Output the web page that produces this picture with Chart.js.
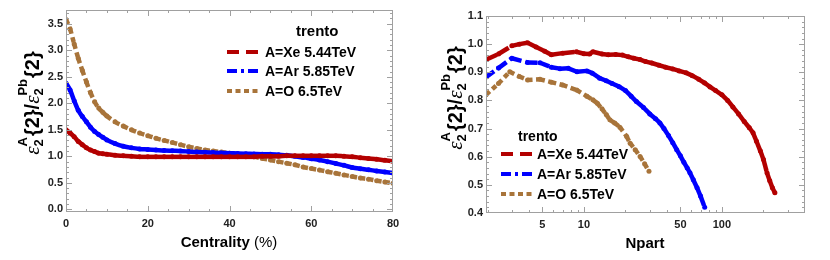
<!DOCTYPE html>
<html>
<head>
<meta charset="utf-8">
<script src="https://cdn.jsdelivr.net/npm/chart.js@4.4.1/dist/chart.umd.min.js"></script>
<style>
    body { margin: 0; background: #fff; width: 830px; height: 260px; overflow: hidden; }
    canvas { position: absolute; top: 0; }
    #leftChart { left: 0; }
    #rightChart { left: 415px; }
</style>
</head>
<body>
<canvas id="leftChart" width="415" height="260"></canvas>
<canvas id="rightChart" width="415" height="260"></canvas>
<script>
// ===== Left panel: ratio vs centrality =====
const centrality = [0, 1, 2, 3, 4, 5, 6, 7, 8, 9, 10, 12, 14, 16, 18, 20, 22, 24, 26, 28, 30, 32, 34, 36, 38, 40,
    42, 44, 46, 48, 50, 52, 54, 56, 58, 60, 62, 64, 66, 68, 70, 72, 74, 76, 78, 80];
const xeCent = [1.50, 1.44, 1.37, 1.28, 1.22, 1.16, 1.12, 1.09, 1.06, 1.05, 1.04, 1.02, 1.01, 1.00, 0.99, 0.99, 0.99, 0.99, 0.99, 0.99, 0.99, 0.99, 0.99, 0.99, 0.99, 0.99,
    0.99, 0.99, 0.99, 1.00, 1.00, 1.00, 1.01, 1.01, 1.01, 1.01, 1.01, 1.01, 1.01, 1.00, 0.99, 0.975, 0.96, 0.945, 0.925, 0.905];
const arCent = [2.38, 2.25, 2.05, 1.87, 1.75, 1.65, 1.55, 1.47, 1.41, 1.36, 1.31, 1.24, 1.19, 1.16, 1.14, 1.13, 1.12, 1.11, 1.105, 1.10, 1.09, 1.08, 1.075, 1.07, 1.065, 1.06,
    1.055, 1.05, 1.045, 1.04, 1.04, 1.03, 1.02, 1.00, 0.98, 0.955, 0.93, 0.90, 0.865, 0.83, 0.79, 0.765, 0.745, 0.725, 0.705, 0.685];
const oCent = [3.58, 3.40, 3.12, 2.85, 2.62, 2.40, 2.20, 2.03, 1.91, 1.83, 1.76, 1.65, 1.57, 1.50, 1.44, 1.39, 1.34, 1.30, 1.26, 1.22, 1.18, 1.15, 1.12, 1.10, 1.08, 1.06,
    1.04, 1.01, 0.99, 0.96, 0.93, 0.90, 0.87, 0.84, 0.80, 0.77, 0.74, 0.71, 0.68, 0.65, 0.62, 0.59, 0.57, 0.54, 0.515, 0.49];

// ===== Right panel: ratio vs Npart =====
const xeNpart = [1.95, 2.4, 3, 3.4, 3.9, 4.5, 5.2, 5.8, 7, 8.8, 10, 11, 11.6, 13.5, 15, 17, 19, 21, 23, 25.5, 28, 31, 35, 39, 44, 49,
    55, 61, 68, 75, 82, 90, 100, 110, 120, 132, 145, 158, 168, 178, 190, 200, 212, 222, 232, 242];
const xeRatio = [0.945, 0.965, 0.994, 1.0, 1.005, 0.99, 0.975, 0.962, 0.968, 0.973, 0.966, 0.965, 0.973, 0.965, 0.962, 0.963, 0.961, 0.955, 0.95, 0.945, 0.938, 0.933, 0.925, 0.918, 0.912, 0.905,
    0.898, 0.888, 0.875, 0.862, 0.848, 0.835, 0.82, 0.80, 0.777, 0.752, 0.725, 0.703, 0.685, 0.655, 0.62, 0.59, 0.543, 0.515, 0.49, 0.472];
const arNpart = [1.95, 2.4, 3, 3.9, 4.8, 5.8, 6.7, 7.7, 8.9, 10.5, 11.5, 13, 14.5, 16, 18, 20, 22, 24, 27, 30, 33, 35.5, 38, 41, 44, 47,
    50, 53, 56, 58.6, 62, 66, 70, 75];
const arRatio = [0.883, 0.915, 0.95, 0.935, 0.934, 0.918, 0.913, 0.914, 0.902, 0.905, 0.897, 0.879, 0.87, 0.86, 0.849, 0.835, 0.815, 0.796, 0.775, 0.752, 0.735, 0.72, 0.70, 0.675, 0.65, 0.625,
    0.603, 0.58, 0.56, 0.543, 0.518, 0.49, 0.46, 0.42];
const oNpart = [1.95, 2.4, 2.9, 3.4, 3.9, 4.8, 5.8, 7, 8.85, 10.5, 11.6, 12.5, 13.5, 14.5, 15.4, 16.7, 18.2, 20.4, 21.6, 23.5, 25.5, 27.5, 29.6];
const oRatio = [0.82, 0.86, 0.902, 0.885, 0.873, 0.875, 0.865, 0.855, 0.837, 0.815, 0.802, 0.79, 0.77, 0.75, 0.731, 0.72, 0.705, 0.672, 0.648, 0.625, 0.601, 0.575, 0.548];

// ===== Ticks =====
const leftXTicks = [0, 20, 40, 60, 80];
const leftYTicks = [0, 0.5, 1, 1.5, 2, 2.5, 3, 3.5];
const rightXTicks = [5, 10, 50, 100];
const rightYTicks = [0.4, 0.5, 0.6, 0.7, 0.8, 0.9, 1.0, 1.1];

const seriesNames = ['A=Xe 5.44TeV', 'A=Ar 5.85TeV', 'A=O 6.5TeV'];
const seriesColors = ['#b30000', '#0000ff', '#a8743a'];
const seriesDash = [[12, 7], [10, 4, 3, 4], [5, 3.5]];

const FONT = "'Liberation Sans', Arial, sans-serif";

// minor tick positions (axis scaffolding only)
function range(a, b, step) {
    const out = [];
    for (let v = a; v <= b + 1e-9; v += step) out.push(Math.round(v * 1000) / 1000);
    return out;
}
const leftXMinor = range(0, 80, 5);
const leftYMinor = range(0, 3.7, 0.1);
const rightYMinor = range(0.4, 1.1, 0.02);
const rightXMinor = [2, 3, 4, 6, 7, 8, 9, 20, 30, 40, 60, 70, 80, 90, 200, 300, 400];

function pairs(xs, ys) {
    return xs.map((x, i) => ({ x: x, y: ys[i] }));
}

// ===== y-axis title: eps_2^A{2}/eps_2^Pb{2} =====
function drawRatioTitle(ctx, bx, cy) {
    const big = 'bold 20px ' + FONT;
    const eps = "italic 21px 'Liberation Serif', serif";
    const small = 'bold 13px ' + FONT;
    const parts = [
        { t: 'ε', f: eps }, { sub: '2', sup: 'A' }, { t: '{2}/', f: big },
        { t: 'ε', f: eps }, { sub: '2', sup: 'Pb' }, { t: '{2}', f: big }
    ];
    let total = 0;
    parts.forEach(p => {
        if (p.t) { ctx.font = p.f; p.w = ctx.measureText(p.t).width; }
        else { ctx.font = small; p.w = Math.max(ctx.measureText(p.sub).width, ctx.measureText(p.sup).width) + 1; }
        total += p.w;
    });
    ctx.save();
    ctx.translate(bx, cy);
    ctx.rotate(-Math.PI / 2);
    ctx.fillStyle = '#000';
    ctx.textBaseline = 'alphabetic';
    ctx.textAlign = 'left';
    let x = -total / 2;
    parts.forEach(p => {
        if (p.t) { ctx.font = p.f; ctx.fillText(p.t, x, 0); }
        else { ctx.font = small; ctx.fillText(p.sub, x, 4); ctx.fillText(p.sup, x, -12); }
        x += p.w;
    });
    ctx.restore();
}

// ===== Frame, inward ticks, legend and titles =====
function framePlugin(cfg) {
    return {
        id: 'frame_' + cfg.key,
        afterDraw(chart) {
            const ctx = chart.ctx;
            const a = chart.chartArea;
            const xs = chart.scales.x;
            const ys = chart.scales.y;
            ctx.save();
            ctx.strokeStyle = '#a0a0a0';
            ctx.lineWidth = 1;
            ctx.strokeRect(a.left + 0.5, a.top + 0.5, a.right - a.left - 1, a.bottom - a.top - 1);

            function xTick(v, len) {
                const px = Math.round(xs.getPixelForValue(v)) + 0.5;
                if (px < a.left || px > a.right) return;
                ctx.beginPath();
                ctx.moveTo(px, a.bottom); ctx.lineTo(px, a.bottom - len);
                ctx.moveTo(px, a.top); ctx.lineTo(px, a.top + len);
                ctx.stroke();
            }
            function yTick(v, len) {
                const py = Math.round(ys.getPixelForValue(v)) + 0.5;
                if (py < a.top || py > a.bottom) return;
                ctx.beginPath();
                ctx.moveTo(a.left, py); ctx.lineTo(a.left + len, py);
                ctx.moveTo(a.right, py); ctx.lineTo(a.right - len, py);
                ctx.stroke();
            }
            cfg.xMinor.forEach(v => xTick(v, 3));
            cfg.yMinor.forEach(v => yTick(v, 3));
            cfg.xMajor.forEach(v => xTick(v, 6));
            cfg.yMajor.forEach(v => yTick(v, 6));

            // legend
            const lg = cfg.legend;
            ctx.fillStyle = '#000';
            ctx.textBaseline = 'middle';
            ctx.font = 'bold ' + lg.titleSize + 'px ' + FONT;
            ctx.textAlign = 'left';
            ctx.fillText('trento', lg.titleX, lg.titleY);
            seriesNames.forEach((name, i) => {
                const y = lg.rows[i];
                ctx.beginPath();
                ctx.setLineDash(seriesDash[i]);
                ctx.strokeStyle = seriesColors[i];
                ctx.lineWidth = 4;
                ctx.moveTo(lg.x0, y); ctx.lineTo(lg.x1, y);
                ctx.stroke();
                ctx.setLineDash([]);
                ctx.font = 'bold 14px ' + FONT;
                ctx.fillStyle = '#000';
                ctx.fillText(name, lg.tx, y + 1);
            });

            // x title
            ctx.textBaseline = 'alphabetic';
            ctx.fillStyle = '#000';
            if (cfg.key === 'left') {
                ctx.font = 'bold 15px ' + FONT;
                const w1 = ctx.measureText('Centrality ').width;
                ctx.font = '15px ' + FONT;
                const w2 = ctx.measureText('(%)').width;
                const sx = cfg.xTitleX - (w1 + w2) / 2;
                ctx.font = 'bold 15px ' + FONT;
                ctx.fillText('Centrality ', sx, cfg.xTitleY);
                ctx.font = '15px ' + FONT;
                ctx.fillText('(%)', sx + w1, cfg.xTitleY);
            } else {
                ctx.font = 'bold 15px ' + FONT;
                ctx.textAlign = 'center';
                ctx.fillText('Npart', cfg.xTitleX, cfg.xTitleY);
            }
            drawRatioTitle(ctx, cfg.yTitleX, cfg.yTitleY);
            ctx.restore();
        }
    };
}

// every segment is stroked on its own so the dash restarts at each data point
function makeDatasets(dataLists, smooth) {
    return dataLists.map((d, i) => ({
        label: seriesNames[i],
        data: d,
        borderColor: seriesColors[i],
        borderDash: seriesDash[i],
        borderWidth: 4.5,
        pointRadius: 2.5,
        pointBorderWidth: 0,
        pointBackgroundColor: seriesColors[i],
        fill: false,
        cubicInterpolationMode: smooth ? 'monotone' : 'default',
        tension: 0,
        segment: { borderDashOffset: c => (c.p0DataIndex % 2) * 0.001 }
    }));
}

const tickFont = { family: FONT, size: 11, weight: 'bold' };

// ===== Left chart =====
new Chart(document.getElementById('leftChart').getContext('2d'), {
    type: 'line',
    data: {
        datasets: makeDatasets([
            pairs(centrality, xeCent),
            pairs(centrality, arCent),
            pairs(centrality, oCent)
        ], true)
    },
    options: {
        responsive: false,
        animation: false,
        devicePixelRatio: 1,
        layout: { padding: { top: 10, right: 22, left: 0, bottom: 0 } },
        plugins: { legend: { display: false }, tooltip: { enabled: false } },
        scales: {
            x: {
                type: 'linear', min: 0, max: 80,
                grid: { display: false, drawTicks: false }, border: { display: false },
                afterBuildTicks: s => { s.ticks = leftXTicks.map(v => ({ value: v })); },
                afterFit: s => { s.height = 48; },
                ticks: { font: tickFont, color: '#222', padding: 5, maxRotation: 0, callback: v => String(v) }
            },
            y: {
                type: 'linear', min: -0.05, max: 3.76,
                grid: { display: false, drawTicks: false }, border: { display: false },
                afterBuildTicks: s => { s.ticks = leftYTicks.map(v => ({ value: v })); },
                afterFit: s => { s.width = 66; },
                ticks: { font: tickFont, color: '#222', padding: 3, callback: v => Number(v).toFixed(1) }
            }
        }
    },
    plugins: [framePlugin({
        key: 'left',
        xMajor: leftXTicks, yMajor: leftYTicks, xMinor: leftXMinor, yMinor: leftYMinor,
        legend: { titleX: 296, titleY: 32, titleSize: 15, x0: 227, x1: 259, tx: 265, rows: [52, 71, 91] },
        xTitleX: 229, xTitleY: 247,
        yTitleX: 39, yTitleY: 103
    })]
});

// ===== Right chart =====
new Chart(document.getElementById('rightChart').getContext('2d'), {
    type: 'line',
    data: {
        datasets: makeDatasets([
            pairs(xeNpart, xeRatio),
            pairs(arNpart, arRatio),
            pairs(oNpart, oRatio)
        ], false)
    },
    options: {
        responsive: false,
        animation: false,
        devicePixelRatio: 1,
        layout: { padding: { top: 16, right: 25, left: 0, bottom: 0 } },
        plugins: { legend: { display: false }, tooltip: { enabled: false } },
        scales: {
            x: {
                type: 'logarithmic', min: 1.95, max: 400,
                grid: { display: false, drawTicks: false }, border: { display: false },
                afterBuildTicks: s => { s.ticks = rightXTicks.map(v => ({ value: v })); },
                afterFit: s => { s.height = 47; },
                ticks: { font: tickFont, color: '#222', padding: 5, maxRotation: 0, autoSkip: false, callback: v => String(v) }
            },
            y: {
                type: 'linear', min: 0.4, max: 1.1,
                grid: { display: false, drawTicks: false }, border: { display: false },
                afterBuildTicks: s => { s.ticks = rightYTicks.map(v => ({ value: v })); },
                afterFit: s => { s.width = 71; },
                ticks: { font: tickFont, color: '#222', padding: 3, callback: v => Number(v).toFixed(1) }
            }
        }
    },
    plugins: [framePlugin({
        key: 'right',
        xMajor: rightXTicks, yMajor: rightYTicks, xMinor: rightXMinor, yMinor: rightYMinor,
        legend: { titleX: 103, titleY: 137, titleSize: 14, x0: 86, x1: 117, tx: 122, rows: [154, 174, 194] },
        xTitleX: 230, xTitleY: 248,
        yTitleX: 47, yTitleY: 98
    })]
});
</script>
</body>
</html>
